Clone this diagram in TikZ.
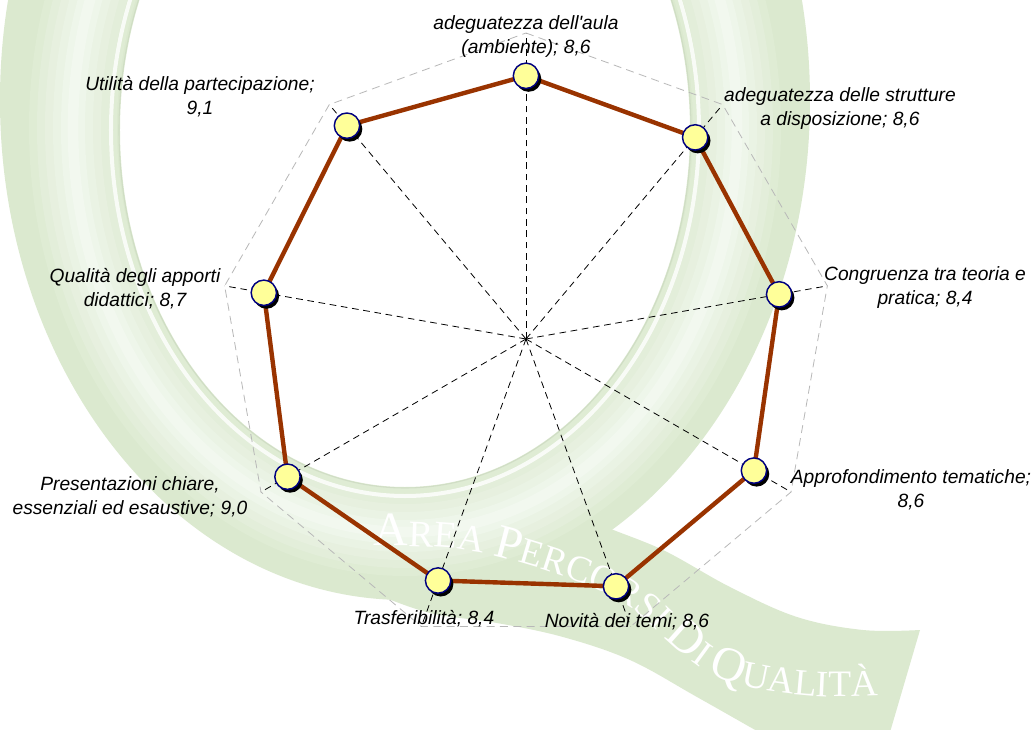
\documentclass[tikz,border=0pt]{standalone}
\usepackage{fontspec}
\newfontfamily\labelfont[Ligatures=TeXOff]{Liberation Sans}
\newfontfamily\wmfont{Liberation Serif}
\usepackage{tikz}
\usetikzlibrary{positioning}
\usepackage{xcolor}
\usetikzlibrary{calc}
\usetikzlibrary{shadows, decorations.text}

\definecolor{qgreen}{RGB}{219,233,207}
\definecolor{qcore}{RGB}{242,248,239}
\definecolor{databrown}{RGB}{153,51,0}
\definecolor{markfill}{RGB}{255,255,153}
\definecolor{markline}{RGB}{0,0,128}

\newcommand\wmbig{\wmfont\fontsize{36}{36}\selectfont}
\newcommand\wmsmall{\wmfont\fontsize{28}{28}\selectfont}

\begin{document}
\begin{tikzpicture}[x=0.75pt, y=0.75pt, line join=round,
    axisline/.style={black, line width=0.6pt, dash pattern=on 5pt off 3.5pt},
    gridline/.style={black!28, line width=0.6pt, dash pattern=on 6pt off 4pt},
    dataline/.style={databrown, line width=3.3pt},
    marker/.style={circle, draw=markline, fill=markfill, line width=1.1pt,
        minimum size=19pt, inner sep=0pt,
        drop shadow={shadow xshift=2pt, shadow yshift=-2.5pt, opacity=1, fill=black}},
    lbl/.style={font=\fontsize{14.4}{18}\selectfont\labelfont\itshape,
        align=center, inner sep=0pt},
    gloss/.style={line width=#1}]
    \useasboundingbox (-526,-390) rectangle (510,339);
    \fill[white] (-526,-390) rectangle (510,339);

    % background Q
    \begin{scope}
        \clip (-526,-390) rectangle (510,339);
        \fill[qgreen, even odd rule] (-121,239) ellipse [x radius=405, y radius=500]
            (-121,209) ellipse [x radius=285, y radius=357];
        \fill[qgreen] plot[smooth, tension=.6] coordinates {(34,-161) (71,-184) (137,-211)
            (204,-248) (271,-278) (337,-291) (394,-291)} -- (362,-400)
            -- plot[smooth, tension=.6] coordinates {(245,-400) (171,-358) (104,-321)
            (37,-298) (-29,-284) (-96,-274) (-150,-255)} -- cycle;
        % glossy band of the ring
        \draw[gloss=66pt, qgreen!83!qcore] (-121,211) ellipse [x radius=332, y radius=404];
        \draw[gloss=54pt, qgreen!67!qcore] (-121,211) ellipse [x radius=332, y radius=404];
        \draw[gloss=42pt, qgreen!50!qcore] (-121,211) ellipse [x radius=332, y radius=404];
        \draw[gloss=30pt, qgreen!33!qcore] (-121,211) ellipse [x radius=332, y radius=404];
        \draw[gloss=18pt, qgreen!17!qcore] (-121,211) ellipse [x radius=332, y radius=404];
        \draw[gloss=8pt, qcore] (-121,211) ellipse [x radius=332, y radius=404];
        \draw[gloss=3pt, white, opacity=.8] (-121,209) ellipse [x radius=294, y radius=366];
        \draw[gloss=0.8pt, qgreen!80!black, opacity=.25] (-121,209) ellipse [x radius=286, y radius=358];
        % lettering on the tail
        \path[decorate, decoration={text along path, text color=white,
            text={|\wmbig|A|\wmsmall|REA |\wmbig|P|\wmsmall|ERCORSI |\wmbig|D|\wmsmall|I |\wmbig|Q|\wmsmall|UALITÀ}}]
            plot[smooth, tension=.6] coordinates {(-152,-207) (-60,-211) (37,-237) (101,-266)
            (160,-318) (207,-344) (289,-357) (374,-356) (430,-354)};
    \end{scope}

    % centre
    \coordinate (O) at (0,0);

    % axis ends (value 10)
    \coordinate (a1) at (90:306);
    \coordinate (a2) at (50:306);
    \coordinate (a3) at (10:306);
    \coordinate (a4) at (-30:306);
    \coordinate (a5) at (-70:306);
    \coordinate (a6) at (-110:306);
    \coordinate (a7) at (-150:306);
    \coordinate (a8) at (170:306);
    \coordinate (a9) at (130:306);

    % data points
    \coordinate (d1) at (90:263.2);
    \coordinate (d2) at (50:263.2);
    \coordinate (d3) at (10:257.0);
    \coordinate (d4) at (-30:263.2);
    \coordinate (d5) at (-70:263.2);
    \coordinate (d6) at (-110:257.0);
    \coordinate (d7) at (-150:275.4);
    \coordinate (d8) at (170:266.2);
    \coordinate (d9) at (130:278.5);

    % grid and axes
    \draw[gridline] (a1) -- (a2) -- (a3) -- (a4) -- (a5) -- (a6) -- (a7) -- (a8) -- (a9) -- cycle;
    \draw[axisline] (O) -- (a1);
    \draw[axisline] (O) -- (a2);
    \draw[axisline] (O) -- (a3);
    \draw[axisline] (O) -- (a4);
    \draw[axisline] (O) -- (a5);
    \draw[axisline] (O) -- (a6);
    \draw[axisline] (O) -- (a7);
    \draw[axisline] (O) -- (a8);
    \draw[axisline] (O) -- (a9);

    % series
    \draw[dataline] (d1) -- (d2) -- (d3) -- (d4) -- (d5) -- (d6) -- (d7) -- (d8) -- (d9) -- cycle;
    \node[marker] (m1) at (d1) {};
    \node[marker] (m2) at (d2) {};
    \node[marker] (m3) at (d3) {};
    \node[marker] (m4) at (d4) {};
    \node[marker] (m5) at (d5) {};
    \node[marker] (m6) at (d6) {};
    \node[marker] (m7) at (d7) {};
    \node[marker] (m8) at (d8) {};
    \node[marker] (m9) at (d9) {};

    % labels
    \node[lbl] (l1) at (0,302) {adeguatezza dell'aula\\(ambiente); 8,6};
    \node[lbl] (l2) at (314,230) {adeguatezza delle strutture\\a disposizione; 8,6};
    \node[lbl] (l3) at (399,51) {Congruenza tra teoria e\\pratica; 8,4};
    \node[lbl] (l4) at (385,-151) {Approfondimento tematiche;\\8,6};
    \node[lbl] (l5) at (101,-283) {Novità dei temi; 8,6};
    \node[lbl] (l6) at (-102,-280) {Trasferibilità; 8,4};
    \node[lbl] (l7) at (-396,-158) {Presentazioni chiare,\\essenziali ed esaustive; 9,0};
    \node[lbl] (l8) at (-391,50) {Qualità degli apporti\\didattici; 8,7};
    \node[lbl] (l9) at (-326,242) {Utilità della partecipazione;\\9,1};
\end{tikzpicture}
\end{document}
